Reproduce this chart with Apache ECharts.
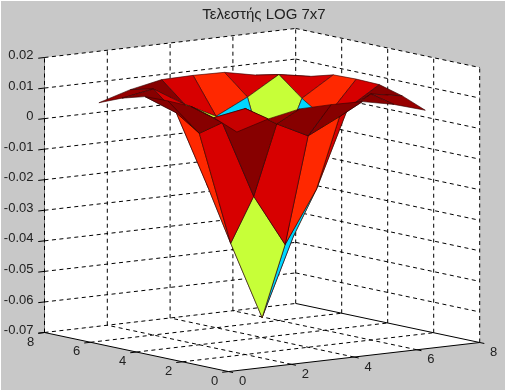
<!DOCTYPE html>
<html><head><meta charset="utf-8">
<style>html,body{margin:0;padding:0;background:#fff;overflow:hidden}#c{width:506px;height:392px}</style>
<script src="https://cdn.jsdelivr.net/npm/echarts@6/dist/echarts.min.js"></script>
</head><body><div id="c"></div>
<script>
// Surface heights (rows = y 1..7, columns = x 1..7)
const row1 = [0.0056, 0.0087, 0.0108, 0.0110, 0.0108, 0.0087, 0.0056];
const row2 = [0.0087, 0.0105, 0.0043, -0.0008, 0.0043, 0.0105, 0.0087];
const row3 = [0.0108, 0.0043, -0.0210, -0.0380, -0.0210, 0.0043, 0.0108];
const row4 = [0.0110, -0.0008, -0.0380, -0.0635, -0.0380, -0.0008, 0.0110];
const row5 = [0.0108, 0.0043, -0.0210, -0.0380, -0.0210, 0.0043, 0.0108];
const row6 = [0.0087, 0.0105, 0.0043, -0.0008, 0.0043, 0.0105, 0.0087];
const row7 = [0.0056, 0.0087, 0.0108, 0.0110, 0.0108, 0.0087, 0.0056];
const xTicks = [0, 2, 4, 6, 8];
const yTicks = [0, 2, 4, 6, 8];
const zTicks = [-0.07, -0.06, -0.05, -0.04, -0.03, -0.02, -0.01, 0, 0.01, 0.02];
const titleText = 'Τελεστής LOG 7x7';

const Z = [row1, row2, row3, row4, row5, row6, row7];
const zMin = zTicks[0], zMax = zTicks[zTicks.length - 1];
const allZ = Z.flat();
const cMin = Math.min(...allZ), cMax = Math.max(...allZ);

// View transform: 3D box -> (plan position on hidden x axis, shifted value on the z axis)
const PX = 31.4, PY = 23, RX = 3.63, RY = 4.88, ZPX = 3055;
function proj(x, y, z) {
  return [x * PX + (8 - y) * PY, z + (RX * x + RY * y - RY * 8) / ZPX];
}
function depth(x, y, z) { return x + 1.365 * y - 26.6 * z; }

function jet(z) {
  let i = Math.floor((z - cMin) / (cMax - cMin) * 64);
  i = Math.max(0, Math.min(63, i));
  const t = (i + 0.5) / 64;
  const c = v => Math.round(255 * Math.max(0, Math.min(1, 1.5 - Math.abs(4 * t - v))));
  return `rgb(${c(3)},${c(2)},${c(1)})`;
}

// Faces, painted far to near
const faces = [];
for (let j = 0; j < 6; j++) for (let i = 0; i < 6; i++) {
  const zc = (Z[j][i] + Z[j][i + 1] + Z[j + 1][i] + Z[j + 1][i + 1]) / 4;
  faces.push({ i, j, d: depth(i + 1.5, j + 1.5, zc) });
}
faces.sort((a, b) => b.d - a.d);

// Box lines: [x1,y1,z1,x2,y2,z2,kind]
const seg = [];
const dashed = 0, solid = 1;
xTicks.forEach(x => {
  seg.push([x, 8, zMin, x, 8, zMax, dashed]);
  if (x > 0 && x < 8) seg.push([x, 0, zMin, x, 8, zMin, dashed]);
  seg.push([x, 0, zMin, x, -0.2, zMin, solid]);
});
yTicks.forEach(y => {
  if (y < 8) seg.push([8, y, zMin, 8, y, zMax, dashed]);
  if (y > 0 && y < 8) seg.push([0, y, zMin, 8, y, zMin, dashed]);
  seg.push([0, y, zMin, -0.2, y, zMin, solid]);
});
zTicks.forEach(z => {
  seg.push([0, 8, z, 8, 8, z, dashed]);
  seg.push([8, 8, z, 8, 0, z, z === zMin ? solid : dashed]);
  seg.push([0, 8, z, -0.2, 8, z, solid]);
});
seg.push([0, 0, zMin, 8, 0, zMin, solid]);
seg.push([0, 0, zMin, 0, 8, zMin, solid]);

const walls = [
  [[0, 8, zMin], [8, 8, zMin], [8, 8, zMax], [0, 8, zMax]],
  [[8, 8, zMin], [8, 0, zMin], [8, 0, zMax], [8, 8, zMax]],
  [[0, 0, zMin], [8, 0, zMin], [8, 8, zMin], [0, 8, zMin]]
];

const labels = [];
xTicks.forEach(x => labels.push([x, 0, 14, 10, String(x)]));
yTicks.forEach(y => labels.push([0, y, -14, 9.5, String(y)]));

const chart = echarts.init(document.getElementById('c'), null, { renderer: 'canvas' });
const P = (api, p) => api.coord(proj(p[0], p[1], p[2]));

chart.setOption({
  animation: false,
  backgroundColor: '#ffffff',
  title: {
    text: titleText, left: 259, top: 2, textAlign: 'center',
    textStyle: { fontFamily: 'Liberation Sans', fontSize: 15, fontWeight: 'normal', color: '#222' }
  },
  graphic: [{ type: 'rect', z: -10, silent: true, shape: { x: 1, y: 1, width: 504, height: 389 }, style: { fill: '#c8c8c8' } }],
  grid: { left: 44.5, top: 57.5, width: 440, height: 275, containLabel: false },
  xAxis: { type: 'value', min: 0, max: 440, show: false },
  yAxis: {
    type: 'value', min: zMin, max: zMax, interval: 0.01,
    splitLine: { show: false },
    axisLine: { show: true, onZero: false, lineStyle: { color: '#000', width: 1 } },
    axisTick: { show: false },
    axisLabel: { margin: 11, verticalAlign: 'bottom', lineHeight: 4, fontFamily: 'Liberation Sans', fontSize: 13, color: '#222', showMinLabel: true, showMaxLabel: true }
  },
  series: [
    {
      type: 'custom', name: 'walls', coordinateSystem: 'cartesian2d', silent: true, z: 1, clip: false,
      data: walls.map((_, k) => [k, 0]),
      renderItem(params, api) {
        return { type: 'polygon', shape: { points: walls[api.value(0)].map(p => P(api, p)) }, style: { fill: '#fff', stroke: null } };
      }
    },
    {
      type: 'custom', name: 'grid', coordinateSystem: 'cartesian2d', silent: true, z: 2, clip: false,
      data: seg.map((s, k) => [k, 0]),
      renderItem(params, api) {
        const s = seg[api.value(0)];
        const a = P(api, s.slice(0, 3)), b = P(api, s.slice(3, 6));
        return {
          type: 'line', shape: { x1: a[0], y1: a[1], x2: b[0], y2: b[1] },
          style: { stroke: '#000', lineWidth: 1, lineDash: s[6] === solid ? null : [4, 3.5] }
        };
      }
    },
    {
      type: 'custom', name: 'surface', coordinateSystem: 'cartesian2d', silent: true, z: 3, clip: false,
      data: faces.map(f => [f.i, f.j]),
      renderItem(params, api) {
        const i = api.value(0), j = api.value(1);
        const c = [[i, j], [i + 1, j], [i + 1, j + 1], [i, j + 1]];
        return {
          type: 'polygon',
          shape: { points: c.map(q => P(api, [q[0] + 1, q[1] + 1, Z[q[1]][q[0]]])) },
          style: { fill: jet(Z[j][i]), stroke: '#300000', lineWidth: 0.6, lineJoin: 'round' }
        };
      }
    },
    {
      type: 'custom', name: 'ticklabels', coordinateSystem: 'cartesian2d', silent: true, z: 4, clip: false,
      data: labels.map((l, k) => [k, 0]),
      renderItem(params, api) {
        const l = labels[api.value(0)];
        const p = P(api, [l[0], l[1], zMin]);
        return {
          type: 'text',
          style: {
            x: p[0] + l[2], y: p[1] + l[3], text: l[4], align: 'center', verticalAlign: 'middle',
            font: '13px "Liberation Sans"', fill: '#222'
          }
        };
      }
    }
  ]
});
</script></body></html>
